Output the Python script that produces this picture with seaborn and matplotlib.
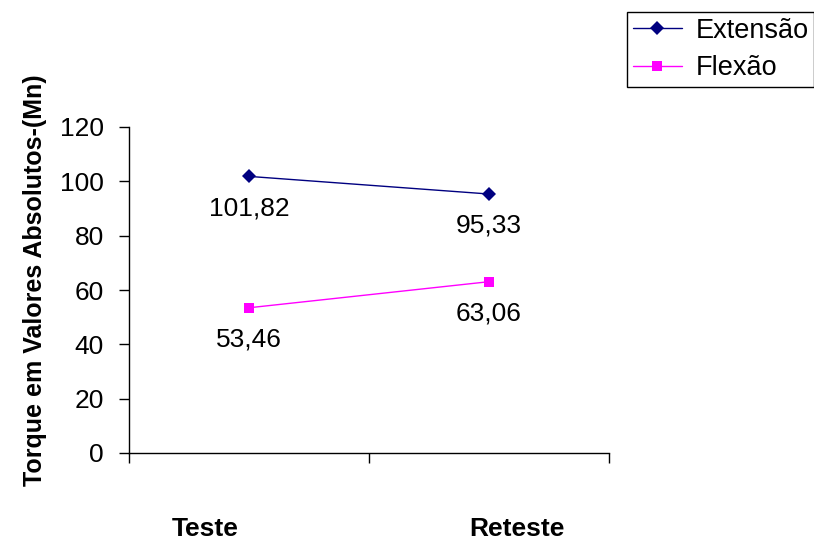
import numpy as np
import pandas as pd
import seaborn as sns
import matplotlib
import matplotlib.pyplot as plt
from matplotlib.transforms import blended_transform_factory

# dados
momentos = ['Teste', 'Reteste']
extensao = [101.82, 95.33]
flexao = [53.46, 63.06]
series = ['Extensão', 'Flexão']
cores = {'Extensão': '#000080', 'Flexão': '#FF00FF'}
marcadores = {'Extensão': 'D', 'Flexão': 's'}

pos = [0.5, 1.5]
df = pd.DataFrame({
    'pos': pos * 2,
    'valor': extensao + flexao,
    'serie': [series[0]] * 2 + [series[1]] * 2,
})

sns.set_style('ticks')
plt.rcParams['font.family'] = ['Liberation Sans', 'DejaVu Sans']
for k in ['text.color', 'axes.labelcolor', 'xtick.color', 'ytick.color']:
    plt.rcParams[k] = 'black'
matplotlib.rcParams['axes.unicode_minus'] = False

fig = plt.figure(figsize=(8.14, 5.4), dpi=100)
ax = fig.add_axes([129 / 814, 1 - 453 / 540, 480 / 814, 326 / 540])

sns.lineplot(data=df, x='pos', y='valor', hue='serie', style='serie',
             palette=cores, markers=marcadores, dashes=False,
             markersize=7.5, linewidth=1, markeredgewidth=0, ax=ax)

# rótulos dos valores
for x, v in zip(pos * 2, extensao + flexao):
    ax.annotate(f'{v:.2f}'.replace('.', ','), (x, v), xytext=(0, -23),
                textcoords='offset points', ha='center', va='center',
                fontsize=19, color='black')

ax.set_xlim(0, 2)
ax.set_ylim(0, 120)
ax.set_yticks(range(0, 121, 20))
ax.set_xticks([0, 1, 2])
ax.set_xticklabels([])
ax.tick_params(axis='y', labelsize=19, length=7, width=1, color='black', pad=11)
ax.tick_params(axis='x', length=7, width=1, color='black')
sns.despine(ax=ax)
for s in ['left', 'bottom']:
    ax.spines[s].set_color('black')
    ax.spines[s].set_linewidth(1)
ax.set_xlabel('')
ax.set_ylabel('Torque em Valores Absolutos-(Mn)', fontsize=18, fontweight='bold')
ax.yaxis.set_label_coords((47 - 129) / 480, (453 - 280) / 326)

# categorias
tr = blended_transform_factory(ax.transData, fig.transFigure)
for x, nome in zip([0.317, 1.617], momentos):
    ax.text(x, 1 - 529 / 540, nome, transform=tr, ha='center', va='center',
            fontsize=19, fontweight='bold')

leg = ax.legend(title=None, loc='upper left', bbox_to_anchor=(627 / 814, 1 - 12 / 540),
                bbox_transform=fig.transFigure, fontsize=19.5, frameon=True,
                fancybox=False, edgecolor='black', framealpha=1,
                handlelength=1.8, borderpad=0.22, labelspacing=0.42, handletextpad=0.5,
                borderaxespad=0)
leg.get_frame().set_linewidth(1)

fig.savefig('out.png', dpi=100)
